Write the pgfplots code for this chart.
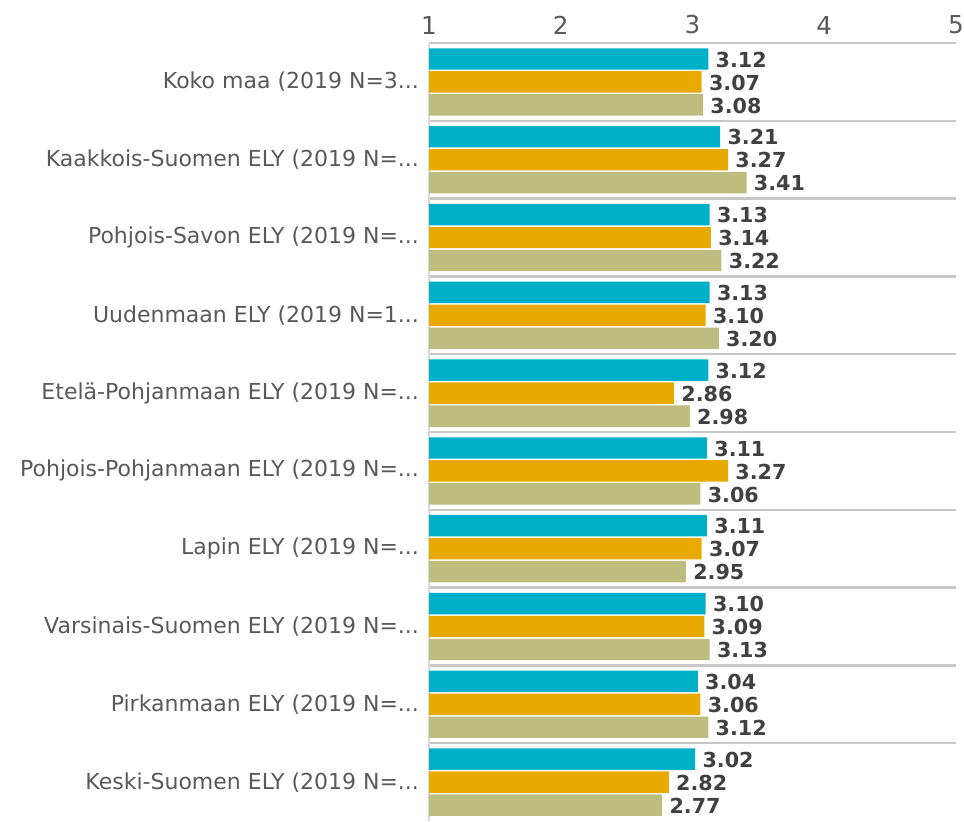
\documentclass[border=0pt]{standalone}
\usepackage{fontspec}
\setmainfont{DejaVu Sans}
\usepackage{pgfplots}
\pgfplotsset{compat=1.18}
\definecolor{barteal}{RGB}{0,175,200}
\definecolor{bargold}{RGB}{232,169,0}
\definecolor{barolive}{RGB}{189,189,128}
\definecolor{labgrey}{RGB}{89,89,89}
\definecolor{valgrey}{RGB}{64,64,64}
\newcommand{\dd}{.{}.{}.}

\begin{document}
\begin{tikzpicture}
\begin{axis}[
  name=ax,
  xbar,
  scale only axis,
  width=395.25pt,
  height=583.5pt,
  xmin=1, xmax=5,
  ymin=-0.5, ymax=9.5,
  y dir=reverse,
  bar width=0.275,
  axis x line*=top,
  axis y line*=left,
  x axis line style={draw=none},
  y axis line style={draw=black!15, line width=1.5pt},
  xtick={1,2,3,4,5},
  xticklabel style={font=\fontsize{18.5}{20}\selectfont, text=labgrey, yshift=3pt},
  ytick={0,1,2,3,4,5,6,7,8,9},
  yticklabels={
    {Koko maa (2019 N=3\dd},
    {Kaakkois-Suomen ELY (2019 N=\dd},
    {Pohjois-Savon ELY (2019 N=\dd},
    {Uudenmaan ELY (2019 N=1\dd},
    {Etelä-Pohjanmaan ELY (2019 N=\dd},
    {Pohjois-Pohjanmaan ELY (2019 N=\dd},
    {Lapin ELY (2019 N=\dd},
    {Varsinais-Suomen ELY (2019 N=\dd},
    {Pirkanmaan ELY (2019 N=\dd},
    {Keski-Suomen ELY (2019 N=\dd}},
  yticklabel style={font=\fontsize{16.5}{18}\selectfont, text=labgrey, xshift=-4pt},
  major tick length=0pt,
  minor tick length=0pt,
  minor ytick={-0.5,0.5,1.5,2.5,3.5,4.5,5.5,6.5,7.5,8.5},
  yminorgrids=true,
  minor grid style={draw=black!22, line width=1.8pt},
  /pgf/number format/assume math mode=true,
  nodes near coords,
  nodes near coords align={horizontal},
  nodes near coords style={font=\fontsize{15.5}{17}\selectfont\bfseries, text=valgrey,
    xshift=2pt, yshift=-0.5pt,
    /pgf/number format/.cd, fixed, fixed zerofill, precision=2},
]
\addplot[fill=barteal, draw=none, bar shift=-0.295] coordinates {
  (3.12,0) (3.21,1) (3.13,2) (3.13,3) (3.12,4)
  (3.11,5) (3.11,6) (3.10,7) (3.04,8) (3.02,9)};
\addplot[fill=bargold, draw=none, bar shift=0] coordinates {
  (3.07,0) (3.27,1) (3.14,2) (3.10,3) (2.86,4)
  (3.27,5) (3.07,6) (3.09,7) (3.06,8) (2.82,9)};
\addplot[fill=barolive, draw=none, bar shift=0.295] coordinates {
  (3.08,0) (3.41,1) (3.22,2) (3.20,3) (2.98,4)
  (3.06,5) (2.95,6) (3.13,7) (3.12,8) (2.77,9)};
\end{axis}
\pgfresetboundingbox
\path[use as bounding box] ([xshift=-321.75pt]ax.south west) rectangle ([xshift=6pt,yshift=32.25pt]ax.north east);
\end{tikzpicture}
\end{document}
